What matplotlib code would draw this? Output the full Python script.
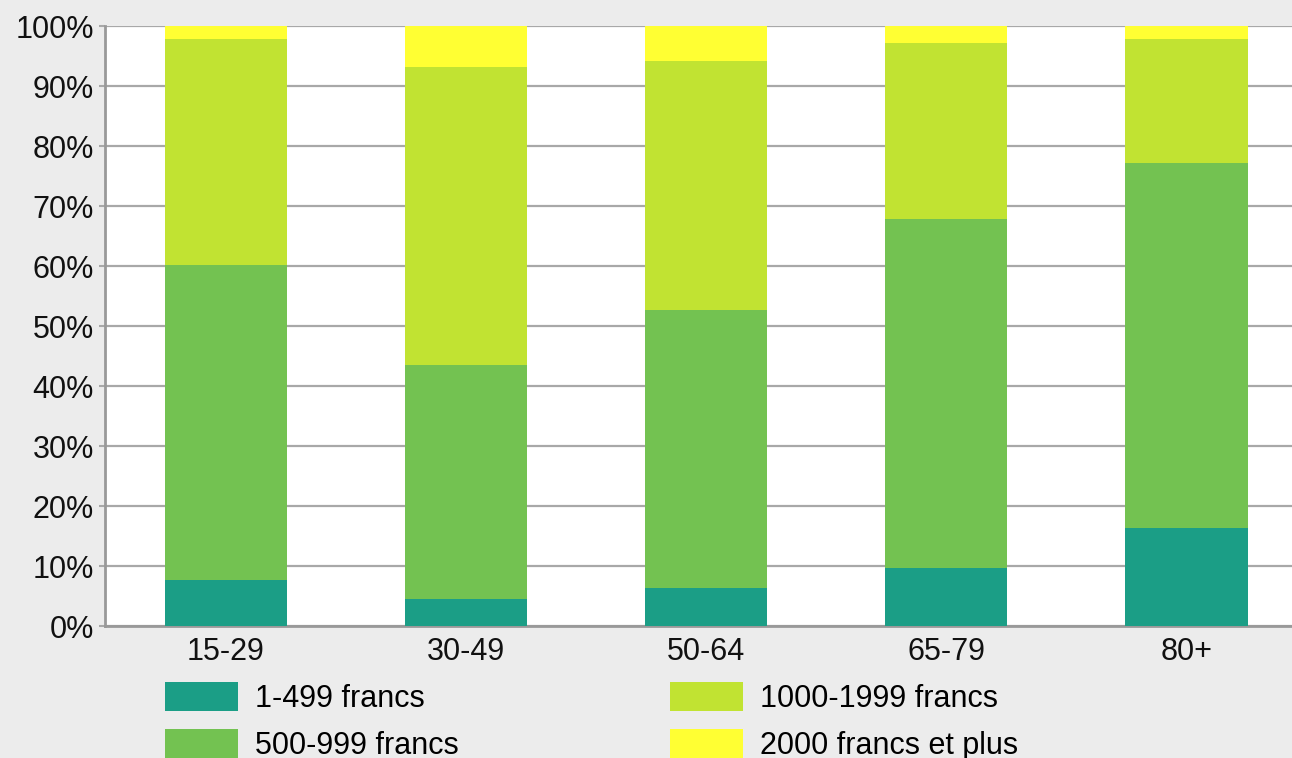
import numpy as np
import matplotlib.pyplot as plt
from matplotlib.patches import Patch

# age groups and share (%) of each spending band
groups = ["15-29", "30-49", "50-64", "65-79", "80+"]
band_1_499 = [7.6, 4.5, 6.3, 9.7, 16.3]
band_500_999 = [52.6, 39.0, 46.4, 58.2, 60.8]
band_1000_1999 = [37.7, 49.7, 41.4, 29.2, 20.8]
band_2000_plus = [2.1, 6.8, 5.9, 2.9, 2.1]

labels = ["1-499 francs", "500-999 francs", "1000-1999 francs", "2000 francs et plus"]
colors = ["#1b9e86", "#73c251", "#c1e332", "#ffff33"]

plt.rcParams['font.family'] = ['Liberation Sans', 'DejaVu Sans']

fig = plt.figure(figsize=(12.92, 7.58), dpi=100, facecolor="#ececec")
ax = fig.add_axes([105 / 1292, 1 - 626 / 758, 1 - 105 / 1292, (626 - 26) / 758])
ax.set_facecolor("white")

x = np.arange(len(groups))
bottom = np.zeros(len(groups))
for vals, col in zip([band_1_499, band_500_999, band_1000_1999, band_2000_plus], colors):
    ax.bar(x, vals, width=0.51, bottom=bottom, color=col, zorder=3)
    bottom += np.array(vals)

ax.set_ylim(0, 100)
ax.set_xlim(-0.504, 4.44)
ax.set_yticks(np.arange(0, 101, 10))
ax.set_yticklabels(["%d%%" % v for v in range(0, 101, 10)])
ax.set_xticks(x)
ax.set_xticklabels(groups)
ax.grid(axis='y', color="#a8a8a8", linewidth=1.6, zorder=1)
ax.tick_params(axis='y', length=4, width=1.5, color="#a8a8a8", pad=4, labelsize=22, labelcolor="#111111")
ax.tick_params(axis='x', length=0, pad=8, labelsize=22, labelcolor="#111111")
for s in ["top", "right"]:
    ax.spines[s].set_visible(False)
for s in ["left", "bottom"]:
    ax.spines[s].set_color("#999999")
    ax.spines[s].set_linewidth(2)

handles = [Patch(facecolor=c, label=l) for c, l in zip(colors, labels)]
fig.legend(handles=handles, ncol=2, loc="upper left", bbox_to_anchor=(165 / 1292, 1 - 682 / 758),
           frameon=False, fontsize=22, handlelength=2.39, handleheight=1.08,
           handletextpad=0.55, labelspacing=0.5, columnspacing=6.92,
           borderpad=0, borderaxespad=0)

fig.savefig("out.png", dpi=100, facecolor=fig.get_facecolor())
